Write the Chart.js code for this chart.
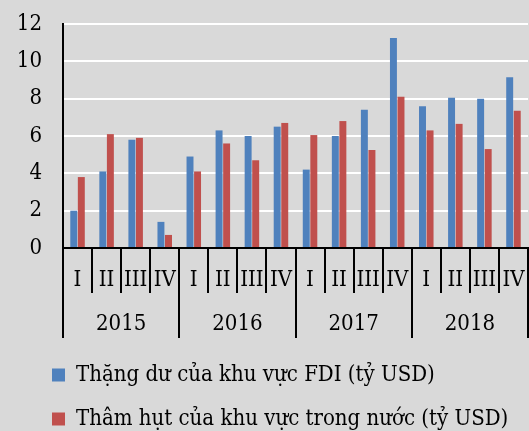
<!DOCTYPE html>
<html>
<head>
<meta charset="utf-8">
<script src="https://cdn.jsdelivr.net/npm/chart.js@4"></script>
<style>
  html, body { margin: 0; padding: 0; background: #d9d9d9; }
  #wrap { width: 529px; height: 431px; }
</style>
</head>
<body>
<div id="wrap"><canvas id="chart"></canvas></div>
<script>
// data
const years = ['2015', '2016', '2017', '2018'];
const quarters = ['I', 'II', 'III', 'IV'];
const fdiSurplus = [2.0, 4.1, 5.8, 1.4, 4.9, 6.3, 6.0, 6.5, 4.2, 6.0, 7.4, 11.25, 7.6, 8.05, 8.0, 9.15];
const domesticDeficit = [3.8, 6.1, 5.9, 0.7, 4.1, 5.6, 4.7, 6.7, 6.05, 6.8, 5.25, 8.1, 6.3, 6.65, 5.3, 7.35];
const yTicks = [0, 2, 4, 6, 8, 10, 12];

const categories = years.flatMap(() => quarters);

Chart.defaults.font.family = '"DejaVu Serif Condensed", "Liberation Serif", serif';
Chart.defaults.font.size = 22;
Chart.defaults.color = '#000';

// the legend sits indented under the y axis labels
const legendIndent = {
    id: 'legendIndent',
    afterLayout: function (chart) {
        if (chart.legend) {
            chart.legend.left += 30;
            chart.legend.right += 30;
        }
    }
};

new Chart(document.getElementById('chart'), {
    type: 'bar',
    data: {
        labels: categories,
        datasets: [
            {
                label: 'Thặng dư của khu vực FDI (tỷ USD)',
                data: fdiSurplus,
                backgroundColor: '#4f81bd',
                categoryPercentage: 0.52,
                barPercentage: 0.92
            },
            {
                label: 'Thâm hụt của khu vực trong nước (tỷ USD)',
                data: domesticDeficit,
                backgroundColor: '#c0504d',
                categoryPercentage: 0.52,
                barPercentage: 0.92
            }
        ]
    },
    options: {
        responsive: true,
        maintainAspectRatio: false,
        animation: false,
        layout: {
            padding: { left: 0, right: 1, top: 24, bottom: -9 }
        },
        plugins: {
            tooltip: { enabled: false },
            legend: {
                position: 'bottom',
                align: 'start',
                labels: {
                    boxWidth: 13,
                    boxHeight: 13,
                    padding: 22,
                    color: '#000',
                    font: { size: 22 }
                }
            }
        },
        scales: {
            x: {
                position: 'bottom',
                grid: {
                    offset: true,
                    drawOnChartArea: false,
                    tickLength: 45,
                    color: '#000',
                    lineWidth: 2
                },
                border: { color: '#000', width: 2 },
                ticks: {
                    padding: -26.2,
                    maxRotation: 0,
                    autoSkip: false,
                    font: { size: 22, lineHeight: 1.2 }
                },
                afterFit: function (scale) {
                    scale.height = 45;
                }
            },
            x2: {
                type: 'category',
                labels: years,
                position: 'bottom',
                grid: {
                    offset: true,
                    drawOnChartArea: false,
                    tickLength: 45,
                    color: '#000',
                    lineWidth: 2
                },
                border: { display: false },
                ticks: {
                    padding: -27.2,
                    maxRotation: 0,
                    font: { size: 22, lineHeight: 1.2 }
                },
                afterFit: function (scale) {
                    scale.height = 49;
                }
            },
            y: {
                min: 0,
                max: 12,
                afterBuildTicks: function (scale) {
                    scale.ticks = yTicks.map(v => ({ value: v }));
                },
                grid: {
                    color: '#ffffff',
                    lineWidth: 2,
                    drawTicks: true,
                    tickLength: 21,
                    tickColor: 'rgba(0,0,0,0)'
                },
                border: { color: '#000', width: 2 },
                ticks: {
                    padding: 0,
                    font: { size: 22 }
                },
                afterFit: function (scale) {
                    scale.width = 63;
                }
            }
        }
    },
    plugins: [legendIndent]
});
</script>
</body>
</html>
